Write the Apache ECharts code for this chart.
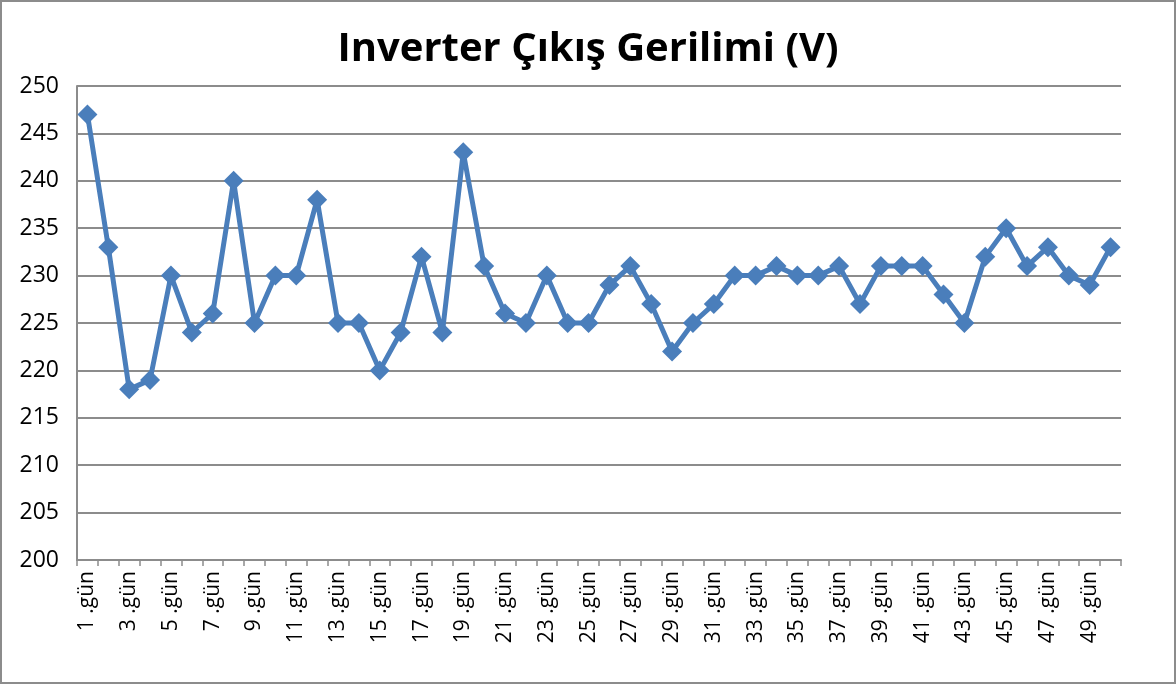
<!DOCTYPE html>
<html lang="tr">
<head>
    <meta charset="UTF-8">
    <title>Inverter Çıkış Gerilimi</title>
    <script src="https://cdn.jsdelivr.net/npm/echarts@6/dist/echarts.min.js"></script>
    <style>
        html, body { margin: 0; padding: 0; background: #fff; }
        #chart { width: 1176px; height: 684px; box-sizing: border-box; border: 2px solid #8c8c8c; }
    </style>
</head>
<body>
<div id="chart"></div>
<script>
    // gün 1..50
    var days = [];
    for (var i = 1; i <= 50; i++) {
        days.push(i + ' .gün');
    }
    // ölçülen gerilim (V)
    var voltage = [
        247, 233, 218, 219, 230, 224, 226, 240, 225, 230,
        230, 238, 225, 225, 220, 224, 232, 224, 243, 231,
        226, 225, 230, 225, 225, 229, 231, 227, 222, 225,
        227, 230, 230, 231, 230, 230, 231, 227, 231, 231,
        231, 228, 225, 232, 235, 231, 233, 230, 229, 233
    ];

    var chart = echarts.init(document.getElementById('chart'));
    var option = {
        animation: false,
        textStyle: { fontFamily: 'Open Sans' },
        title: {
            text: 'Inverter Çıkış Gerilimi (V)',
            left: 'center',
            top: 23,
            textStyle: { fontFamily: 'Open Sans', fontWeight: 'bold', fontSize: 40, color: '#000' }
        },
        grid: { left: 75, right: 53, top: 84, bottom: 122 },
        xAxis: {
            type: 'category',
            data: days,
            boundaryGap: true,
            axisLine: { lineStyle: { color: '#8c8c8c', width: 2 } },
            axisTick: { show: true, interval: 0, length: 6, lineStyle: { color: '#8c8c8c', width: 1.5 } },
            axisLabel: { interval: 1, rotate: 90, margin: 11, fontSize: 21, color: '#000' }
        },
        yAxis: {
            type: 'value',
            min: 200,
            max: 250,
            interval: 5,
            axisLine: { show: true, lineStyle: { color: '#8c8c8c', width: 2 } },
            axisTick: { show: false },
            axisLabel: { fontSize: 23, color: '#000', margin: 18 },
            splitLine: { lineStyle: { color: '#8c8c8c', width: 2 } }
        },
        series: [{
            type: 'line',
            data: voltage,
            showAllSymbol: true,
            symbol: 'diamond',
            symbolSize: 20,
            lineStyle: { color: '#4a7ebb', width: 5 },
            itemStyle: { color: '#4a7ebb' }
        }]
    };
    chart.setOption(option);
</script>
</body>
</html>
